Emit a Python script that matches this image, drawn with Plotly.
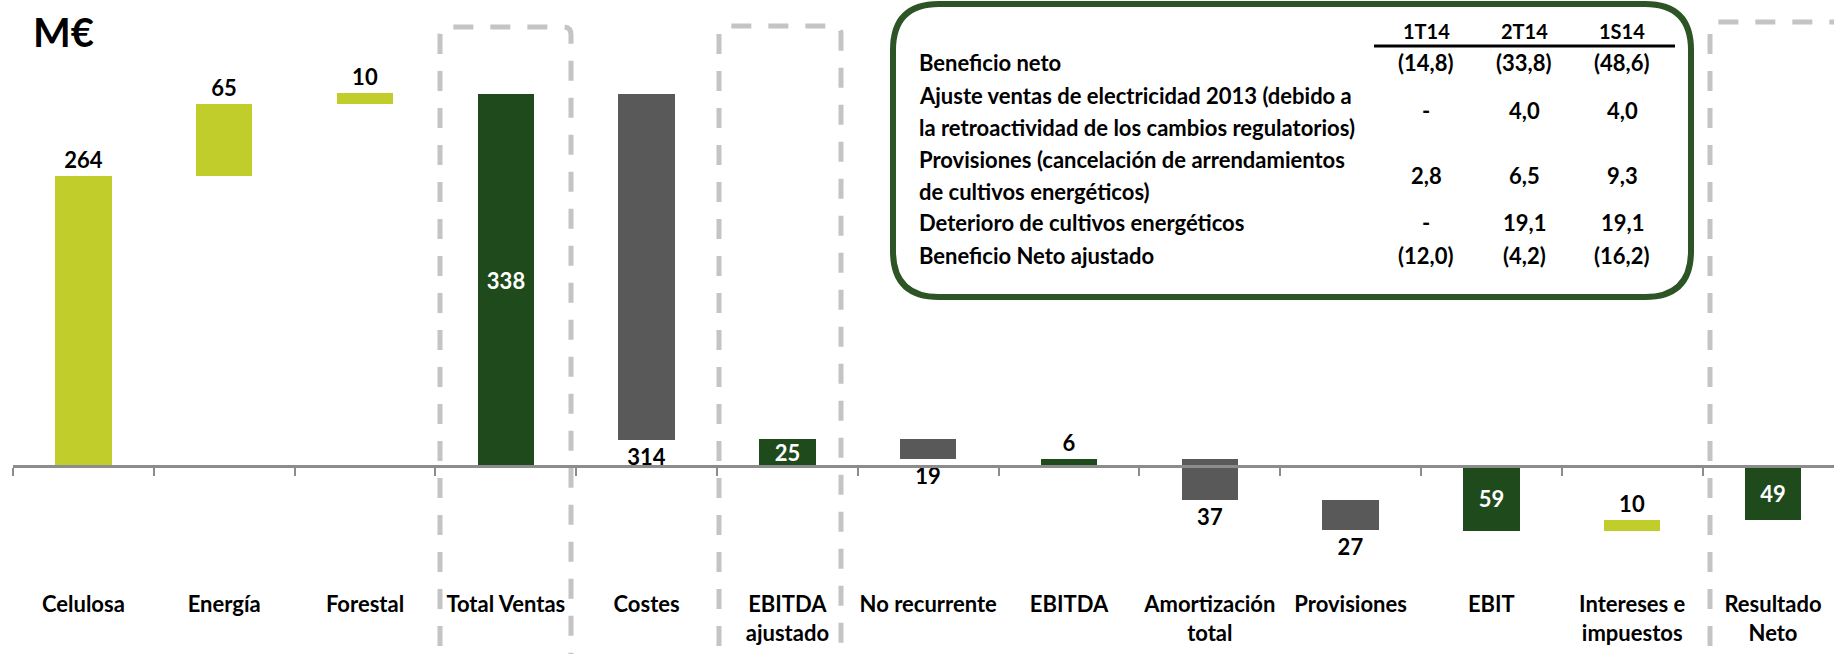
import plotly.graph_objects as go

# ---------------- data ----------------
categories = ["Celulosa", "Energía", "Forestal", "Total Ventas", "Costes", "EBITDA<br>ajustado",
              "No recurrente", "EBITDA", "Amortización<br>total", "Provisiones", "EBIT",
              "Intereses e<br>impuestos", "Resultado<br>Neto"]
values = [264, 65, 10, 338, -314, 25, -19, 6, -37, -27, -59, 10, -49]
measures = ["relative", "relative", "relative", "total", "relative", "total", "relative",
            "total", "relative", "relative", "total", "relative", "total"]

table_cols = ["1T14", "2T14", "1S14"]
table_rows = [
    ["Beneficio neto"],
    ["Ajuste ventas de electricidad 2013 (debido a", "la retroactividad de los cambios regulatorios)"],
    ["Provisiones (cancelación de arrendamientos", "de cultivos energéticos)"],
    ["Deterioro de cultivos energéticos"],
    ["Beneficio Neto ajustado"],
]
col_1T14 = ["(14,8)", "-", "2,8", "-", "(12,0)"]
col_2T14 = ["(33,8)", "4,0", "6,5", "19,1", "(4,2)"]
col_1S14 = ["(48,6)", "4,0", "9,3", "19,1", "(16,2)"]
unit_label = "M€"

# ---------------- styles ----------------
LIGHT = "#C0CD2A"
DARK = "#1F4A1C"
GRAY = "#595959"
FONT = "Lato"
W, H = 1834, 654
ML = 13
PPU = 1.10          # pixels per unit
ZERO_PX = 466       # pixel row of the zero line

def px(xp):
    return (xp - ML) / (W - ML)

def py(yp):
    return 1 - yp / H

# waterfall geometry from the data
bases, ys, colors, texts, tpos = [], [], [], [], []
running = 0
for v, m in zip(values, measures):
    if m == "total":
        bases.append(0)
        ys.append(v)
        running = v
        colors.append(DARK)
        tpos.append("inside" if abs(v) >= 20 else "outside")
    else:
        bases.append(running)
        ys.append(v)
        running += v
        colors.append(LIGHT if v > 0 else GRAY)
        tpos.append("outside")
    texts.append(str(abs(v)))

ymax = ZERO_PX / PPU
ymin = -(H - ZERO_PX) / PPU

fig = go.Figure()
fig.add_trace(go.Bar(
    x=categories, y=ys, base=bases,
    marker=dict(color=colors, line=dict(width=0)),
    width=0.4,
    text=texts, textposition=tpos, textangle=0,
    insidetextanchor="middle",
    constraintext="none",
    insidetextfont=dict(family=FONT, size=22, color="white", weight="bold"),
    outsidetextfont=dict(family=FONT, size=22, color="black", weight="bold"),
    cliponaxis=False,
    hoverinfo="skip",
))

shapes = []
# dashed highlight boxes (open at bottom)
boxes = [(440, 571, 27), (719, 841, 26), (1710, 1842, 22)]
r = 8
for x0, x1, top in boxes:
    bottom = 720
    path = (f"M {px(x0)},{py(bottom)} L {px(x0)},{py(top + r)} Q {px(x0)},{py(top)} {px(x0 + r)},{py(top)} "
            f"L {px(x1 - r)},{py(top)} Q {px(x1)},{py(top)} {px(x1)},{py(top + r)} L {px(x1)},{py(bottom)}")
    shapes.append(dict(type="path", xref="paper", yref="paper", path=path,
                       line=dict(color="#C4C4C4", width=5, dash="20px,17px"), layer="below"))

# table rounded frame
tx0, ty0, tx1, ty1, tr = 893, 4, 1691, 297, 46
path = (f"M {px(tx0 + tr)},{py(ty0)} L {px(tx1 - tr)},{py(ty0)} Q {px(tx1)},{py(ty0)} {px(tx1)},{py(ty0 + tr)} "
        f"L {px(tx1)},{py(ty1 - tr)} Q {px(tx1)},{py(ty1)} {px(tx1 - tr)},{py(ty1)} "
        f"L {px(tx0 + tr)},{py(ty1)} Q {px(tx0)},{py(ty1)} {px(tx0)},{py(ty1 - tr)} "
        f"L {px(tx0)},{py(ty0 + tr)} Q {px(tx0)},{py(ty0)} {px(tx0 + tr)},{py(ty0)} Z")
shapes.append(dict(type="path", xref="paper", yref="paper", path=path,
                   line=dict(color="#2C5424", width=6), fillcolor="white"))
# header underline
shapes.append(dict(type="line", xref="paper", yref="paper",
                   x0=px(1374), x1=px(1675), y0=py(46), y1=py(46),
                   line=dict(color="black", width=3)))

annotations = []
TF = dict(family=FONT, size=22, color="black", weight="bold")
col_x = [1426, 1524, 1622]
for cx, name in zip(col_x, table_cols):
    annotations.append(dict(xref="paper", yref="paper", x=px(cx), y=py(31), text=name,
                            showarrow=False, xanchor="center", yanchor="middle",
                            font=dict(family=FONT, size=20, color="black", weight="bold")))
line_y0, pitch = 63, 32
li = 0
for ri, lines in enumerate(table_rows):
    ys_lines = []
    for ln in lines:
        yy = line_y0 + li * pitch
        ys_lines.append(yy)
        annotations.append(dict(xref="paper", yref="paper", x=px(917), y=py(yy), text=ln,
                                showarrow=False, xanchor="left", yanchor="middle", font=TF))
        li += 1
    ymid = sum(ys_lines) / len(ys_lines)
    for cx, col in zip(col_x, [col_1T14, col_2T14, col_1S14]):
        annotations.append(dict(xref="paper", yref="paper", x=px(cx), y=py(ymid), text=col[ri],
                                showarrow=False, xanchor="center", yanchor="middle", font=TF))

annotations.append(dict(xref="paper", yref="paper", x=px(31), y=py(32), text=unit_label,
                        showarrow=False, xanchor="left", yanchor="middle",
                        font=dict(family=FONT, size=40, color="black", weight="bold")))

fig.update_layout(
    width=W, height=H,
    margin=dict(l=ML, r=0, t=0, b=0, pad=0, autoexpand=False),
    paper_bgcolor="white", plot_bgcolor="white",
    showlegend=False, bargap=0,
    shapes=shapes, annotations=annotations,
    xaxis=dict(type="category", range=[-0.5, -0.5 + (W - ML) / 140.8],
               showline=True, linecolor="#8C8C8C", linewidth=3,
               ticks="outside", tickson="boundaries", ticklen=8, tickwidth=2, tickcolor="#8C8C8C",
               anchor="free", position=(H - ZERO_PX) / H,
               ticklabelstandoff=118, tickangle=0, automargin=False,
               tickfont=dict(family=FONT, size=22, color="black", weight="bold"),
               showgrid=False, zeroline=False, fixedrange=True),
    yaxis=dict(range=[ymin, ymax], visible=False, showgrid=False, zeroline=False,
               fixedrange=True, automargin=False),
)

fig.write_html(
    "out.html",
    config={"displayModeBar": False},
    post_script="document.body.style.margin='0';document.documentElement.style.overflow='hidden';",
)
